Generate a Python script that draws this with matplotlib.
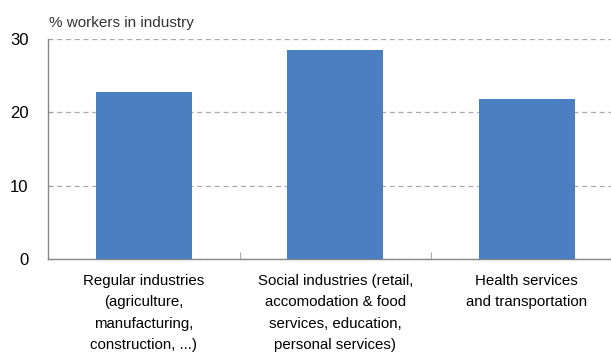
import matplotlib.pyplot as plt

plt.rcParams['font.family'] = ['Liberation Sans', 'DejaVu Sans']

categories = [
    "Regular industries\n(agriculture,\nmanufacturing,\nconstruction, ...)",
    "Social industries (retail,\naccomodation & food\nservices, education,\npersonal services)",
    "Health services\nand transportation",
]
share = [22.8, 28.5, 21.8]
yticks = [0, 10, 20, 30]

fig = plt.figure(figsize=(6.11, 3.52), dpi=100)
ax = fig.add_axes((48 / 611, 93 / 352, 574.5 / 611, 220 / 352))

x = range(len(categories))
ax.bar(x, share, width=0.5, color='#4a7fc1', zorder=3)

ax.set_xlim(-0.5, 2.5)
ax.set_ylim(0, 30)
ax.set_yticks(yticks)
ax.set_yticklabels([str(v) for v in yticks], fontsize=12)
ax.set_xticks(list(x))
ax.set_xticklabels(categories, fontsize=10.8, linespacing=1.65, va='top')
ax.tick_params(axis='x', length=0, pad=11)
ax.set_xticks([-0.5, 0.5, 1.5], minor=True)
ax.tick_params(axis='x', which='minor', direction='in', length=5, color='#999999')
ax.tick_params(axis='y', direction='in', length=3, color='#999999', pad=14)

ax.yaxis.grid(True, linestyle=(0, (4, 3)), color='#aaaaaa', linewidth=0.9, zorder=0)
for s in ['top', 'right']:
    ax.spines[s].set_visible(False)
for s in ['left', 'bottom']:
    ax.spines[s].set_color('#888888')
    ax.spines[s].set_linewidth(1.0)

fig.text(49 / 611, 1 - 27 / 352, '% workers in industry', fontsize=11, color='#333333')

plt.savefig('out.png')
